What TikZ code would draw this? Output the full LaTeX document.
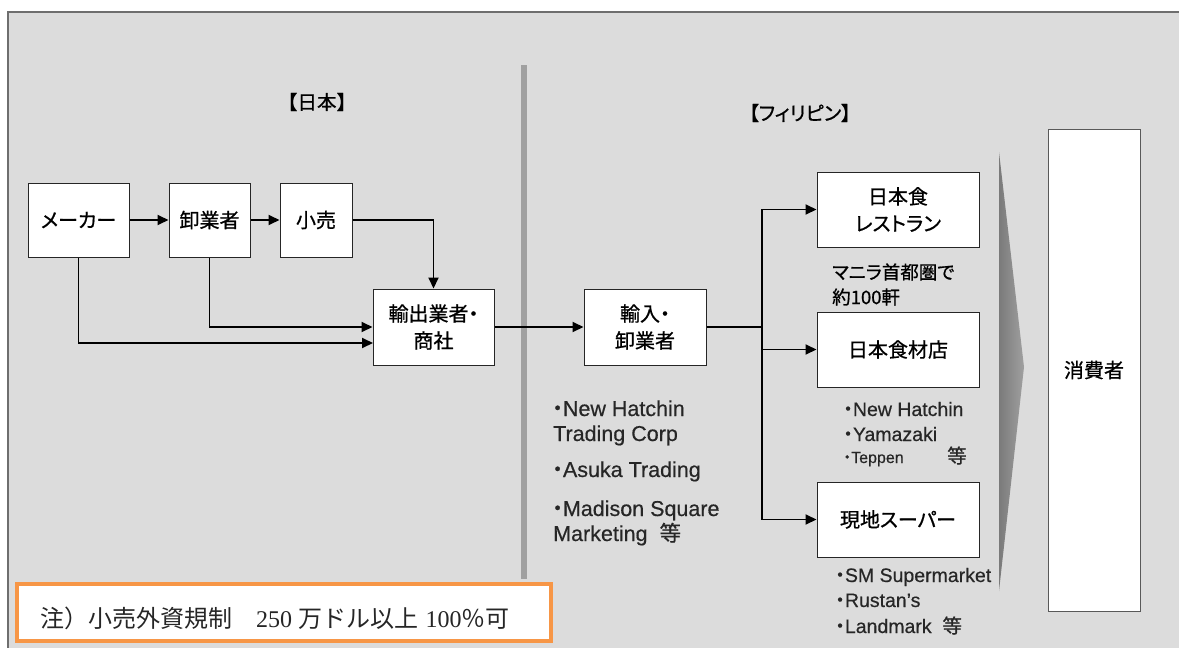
\documentclass[tikz,border=0pt]{standalone}
\usepackage{fontspec}
\setmainfont{Liberation Sans}[FakeBold=0.5]
\newfontfamily\jp{Noto Sans CJK JP}[RawFeature=+palt, FakeBold=0.8]
\newfontfamily\jpm{Noto Sans CJK JP}[FakeBold=0.8]
\newfontfamily\jpn{Noto Sans CJK JP}
\newfontfamily\dig{Liberation Serif}
\usetikzlibrary{arrows.meta}
\definecolor{bg}{HTML}{DCDCDC}
\definecolor{framec}{HTML}{6E6E6E}
\definecolor{sepc}{HTML}{A0A0A0}
\definecolor{chevL}{HTML}{7A7A7A}
\definecolor{chevR}{HTML}{A0A0A0}
\definecolor{notec}{HTML}{F79646}
\tikzset{
  lbl/.style={font=\jp\fontsize{20}{27}\selectfont, align=center, text=black},
  box/.style={draw=black!85, line width=1pt, fill=white, inner sep=0pt, lbl},
  arr/.style={line width=1.9pt, -{Triangle[length=11pt,width=10pt]}},
  conn/.style={line width=1.9pt},
  enL/.style={font=\fontsize{21.5}{25}\selectfont, inner sep=0pt, anchor=base west, text=black!85},
  en/.style={font=\fontsize{19.5}{25}\selectfont, inner sep=0pt, anchor=base west, text=black!85},
  ensmall/.style={font=\fontsize{16}{20}\selectfont, inner sep=0pt, anchor=base west, text=black!85},
  head/.style={inner sep=0pt, text=black}
}
\begin{document}
\begin{tikzpicture}[x=1pt,y=-1pt]
\useasboundingbox (0,0) rectangle (1179,648);
% background and frame
\fill[bg] (8,12) rectangle (1179,648);
\draw[framec, line width=2pt] (8,648) -- (8,12) -- (1179,12);
% separator
\fill[sepc] (521,65) rectangle (527,579);
% headings
\node[head, font=\jpm\fontsize{19.5}{22}\selectfont] (hjp) at (317,102) {【日本】};
\node[head, font=\jp\fontsize{19.5}{22}\selectfont] (hph) at (800,113) {【フィリピン】};
% Japan side boxes
\node[box, minimum width=101pt, minimum height=74pt] (maker) at (78.5,220) {メーカー};
\node[box, minimum width=81pt, minimum height=74pt] (whole) at (209.5,220) {卸業者};
\node[box, minimum width=72pt, minimum height=74pt] (retail) at (316,220) {小売};
\node[box, minimum width=121pt, minimum height=76pt] (export) at (433.5,327) {輸出業者・\\商社};
\coordinate (exin) at (373,343);
% Philippines side boxes
\node[box, minimum width=122pt, minimum height=76pt] (import) at (645,327) {輸入・\\卸業者};
\node[box, minimum width=162pt, minimum height=75pt] (rest) at (898,209.5) {日本食\\レストラン};
\node[box, minimum width=162pt, minimum height=75pt] (shop) at (898,349.5) {日本食材店};
\node[box, minimum width=162pt, minimum height=75pt] (super) at (898,519.5) {現地スーパー};
\node[box, draw=black!65, minimum width=92pt, minimum height=482pt] (cons) at (1094,370) {消費者};
\coordinate (jn) at (762,327);
% chevron
\shade[left color=chevL, right color=chevR] (999,152) -- (1024,367) -- (999,591) -- cycle;
% connectors
\draw[arr] (maker) -- (whole);
\draw[arr] (whole) -- (retail);
\draw[arr] (retail.east) -| (export.north);
\draw[arr] (whole.south) |- (export.west);
\draw[arr] (maker.south) |- (exin);
\draw[arr] (export) -- (import);
\draw[conn] (import.east) -- (jn);
\draw[arr] (jn) |- (rest.west);
\draw[arr] (jn) |- (shop.west);
\draw[arr] (jn) |- (super.west);
% annotations
\node[font=\jp\fontsize{18.5}{25}\selectfont, inner sep=0pt, anchor=west, align=left] (manila) at (832,284.5) {マニラ首都圏で\\約100軒};
% importers list
\node[enL] (l1) at (552,416) {{\jp ・}New Hatchin};
\node[enL] (l2) at (553,441) {Trading Corp};
\node[enL] (l3) at (552,477) {{\jp ・}Asuka Trading};
\node[enL] (l4) at (552,516) {{\jp ・}Madison Square};
\node[enL] (l5) at (553,541) {Marketing\ \ {\jp 等}};
% shops list
\node[en] (s1) at (843,416) {{\jp ・}New Hatchin};
\node[en] (s2) at (843,441) {{\jp ・}Yamazaki};
\node[ensmall] (s3) at (843,463) {{\jp ・}Teppen};
\node[en] (s4) at (947,463) {{\jp 等}};
% supermarkets list
\node[en] (m1) at (835,582) {{\jp ・}SM Supermarket};
\node[en] (m2) at (835,607) {{\jp ・}Rustan’s};
\node[en] (m3) at (835,633) {{\jp ・}Landmark\ \ {\jp 等}};
% note
\draw[notec, line width=4pt, fill=white] (17,584) rectangle (551,641);
\node[inner sep=0pt, anchor=base west, font=\fontsize{24}{28}\selectfont, text=black!85] (note) at (40,627)
  {{\jpn 注）小売外資規制　}{\dig 250} {\jpn 万ドル以上} {\dig 100}{\jpn ％可}};
\end{tikzpicture}
\end{document}
